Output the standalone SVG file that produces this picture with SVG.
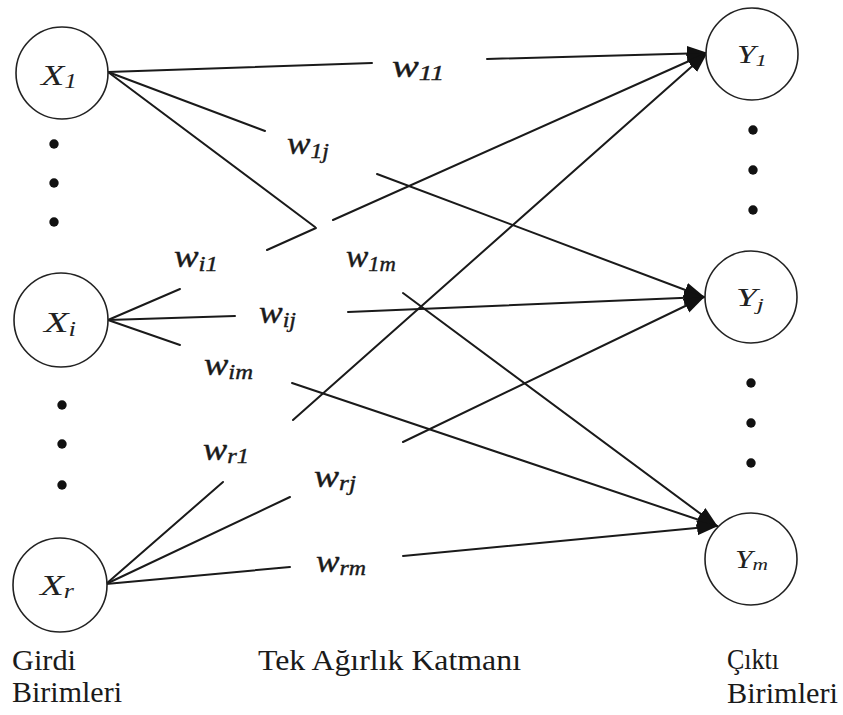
<svg xmlns="http://www.w3.org/2000/svg" width="843" height="715" viewBox="0 0 843 715">
<style>
.node{fill:#fff;stroke:#222;stroke-width:1.6}
.dot{fill:#111}
.ln{stroke:#1a1a1a;stroke-width:2;fill:none;stroke-linecap:round}
.arr{marker-end:url(#ah)}
.w{font-family:"Liberation Serif","Times New Roman",serif;font-style:italic;font-size:31px;fill:#1a1a1a;stroke:#1a1a1a;stroke-width:0.4}
.ws{font-size:21px}
.xl{font-family:"Liberation Serif","Times New Roman",serif;font-style:italic;font-size:30px;fill:#222}
.xs{font-size:20px}
.yl{font-family:"Liberation Serif","Times New Roman",serif;font-style:italic;font-size:25px;fill:#222}
.ys{font-size:17px}
.cap{font-family:"Liberation Serif","Times New Roman",serif;font-size:29px;fill:#1a1a1a}
</style>
<defs>
<marker id="ah" markerUnits="userSpaceOnUse" markerWidth="21" markerHeight="17" refX="20" refY="8.5" orient="auto">
<path d="M0,1 L21,8.5 L0,16 z" fill="#111"/>
</marker>
</defs>
<rect width="843" height="715" fill="#fff"/>
<g id="connectors">
<line class="ln" x1="108" y1="72" x2="372" y2="63"/>
<line class="ln arr" x1="487" y1="59" x2="707" y2="53"/>
<line class="ln" x1="108" y1="72" x2="265" y2="131"/>
<line class="ln arr" x1="377" y1="174" x2="704" y2="297"/>
<line class="ln" x1="108" y1="72" x2="315" y2="227"/>
<line class="ln arr" x1="403" y1="293" x2="717" y2="526"/>
<line class="ln" x1="108" y1="320" x2="180" y2="289"/>
<line class="ln" x1="267" y1="250" x2="316" y2="228"/>
<line class="ln arr" x1="333" y1="220" x2="707" y2="53"/>
<line class="ln" x1="108" y1="320" x2="235" y2="316"/>
<line class="ln arr" x1="348" y1="312" x2="704" y2="297"/>
<line class="ln" x1="108" y1="320" x2="180" y2="345"/>
<line class="ln arr" x1="292" y1="383" x2="717" y2="526"/>
<line class="ln" x1="106" y1="584" x2="223" y2="482"/>
<line class="ln arr" x1="293" y1="420" x2="707" y2="53"/>
<line class="ln" x1="106" y1="584" x2="290" y2="497"/>
<line class="ln arr" x1="403" y1="442" x2="704" y2="297"/>
<line class="ln" x1="106" y1="584" x2="290" y2="567"/>
<line class="ln arr" x1="403" y1="556" x2="717" y2="526"/>
</g>
<g id="weights">
<text class="w" x="392" y="77" textLength="52" lengthAdjust="spacingAndGlyphs">w<tspan class="ws" dy="3">11</tspan></text>
<text class="w" x="287" y="154" textLength="42" lengthAdjust="spacingAndGlyphs">w<tspan class="ws" dy="4">1j</tspan></text>
<text class="w" x="174" y="267" textLength="44" lengthAdjust="spacingAndGlyphs">w<tspan class="ws" dy="4">i1</tspan></text>
<text class="w" x="346" y="267" textLength="50" lengthAdjust="spacingAndGlyphs">w<tspan class="ws" dy="4">1m</tspan></text>
<text class="w" x="259" y="323" textLength="37" lengthAdjust="spacingAndGlyphs">w<tspan class="ws" dy="4">ij</tspan></text>
<text class="w" x="204" y="375" textLength="49" lengthAdjust="spacingAndGlyphs">w<tspan class="ws" dy="4">im</tspan></text>
<text class="w" x="203" y="460" textLength="46" lengthAdjust="spacingAndGlyphs">w<tspan class="ws" dy="3">r1</tspan></text>
<text class="w" x="314" y="487" textLength="42" lengthAdjust="spacingAndGlyphs">w<tspan class="ws" dy="3">rj</tspan></text>
<text class="w" x="316" y="572" textLength="50" lengthAdjust="spacingAndGlyphs">w<tspan class="ws" dy="3">rm</tspan></text>
</g>
<g id="X1"><circle class="node" cx="62" cy="73" r="46"/><text class="xl" x="41" y="85" textLength="36" lengthAdjust="spacingAndGlyphs">X<tspan class="xs" dy="3">1</tspan></text></g>
<g id="Xi"><circle class="node" cx="61" cy="320" r="47"/><text class="xl" x="44" y="332" textLength="32" lengthAdjust="spacingAndGlyphs">X<tspan class="xs" dy="4">i</tspan></text></g>
<g id="Xr"><circle class="node" cx="60" cy="585" r="47"/><text class="xl" x="40" y="595" textLength="34" lengthAdjust="spacingAndGlyphs">X<tspan class="xs" dy="3">r</tspan></text></g>
<g id="Y1"><circle class="node" cx="752" cy="54" r="46"/><text class="yl" x="737" y="63" textLength="30" lengthAdjust="spacingAndGlyphs">Y<tspan class="ys" dy="3">1</tspan></text></g>
<g id="Yj"><circle class="node" cx="751" cy="297" r="46"/><text class="yl" x="736" y="306" textLength="28" lengthAdjust="spacingAndGlyphs">Y<tspan class="ys" dy="4">j</tspan></text></g>
<g id="Ym"><circle class="node" cx="751" cy="559" r="46"/><text class="yl" x="735" y="568" textLength="33" lengthAdjust="spacingAndGlyphs">Y<tspan class="ys" dy="2">m</tspan></text></g>
<g id="dots">
<circle class="dot" cx="54" cy="144" r="4.7"/>
<circle class="dot" cx="54" cy="183" r="4.7"/>
<circle class="dot" cx="54" cy="222" r="4.7"/>
<circle class="dot" cx="62" cy="405" r="4.7"/>
<circle class="dot" cx="62" cy="444" r="4.7"/>
<circle class="dot" cx="62" cy="485" r="4.7"/>
<circle class="dot" cx="753" cy="130" r="4.7"/>
<circle class="dot" cx="753" cy="170" r="4.7"/>
<circle class="dot" cx="753" cy="210" r="4.7"/>
<circle class="dot" cx="751" cy="383" r="4.7"/>
<circle class="dot" cx="751" cy="423" r="4.7"/>
<circle class="dot" cx="751" cy="463" r="4.7"/>
</g>
<g id="captions">
<text class="cap" x="12" y="670" textLength="64" lengthAdjust="spacingAndGlyphs">Girdi</text>
<text class="cap" x="12" y="702" textLength="110" lengthAdjust="spacingAndGlyphs">Birimleri</text>
<text class="cap" x="258" y="670" textLength="263" lengthAdjust="spacingAndGlyphs">Tek Ağırlık Katmanı</text>
<text class="cap" x="727" y="669" textLength="52" lengthAdjust="spacingAndGlyphs">Çıktı</text>
<text class="cap" x="727" y="703" textLength="111" lengthAdjust="spacingAndGlyphs">Birimleri</text>
</g>
</svg>
